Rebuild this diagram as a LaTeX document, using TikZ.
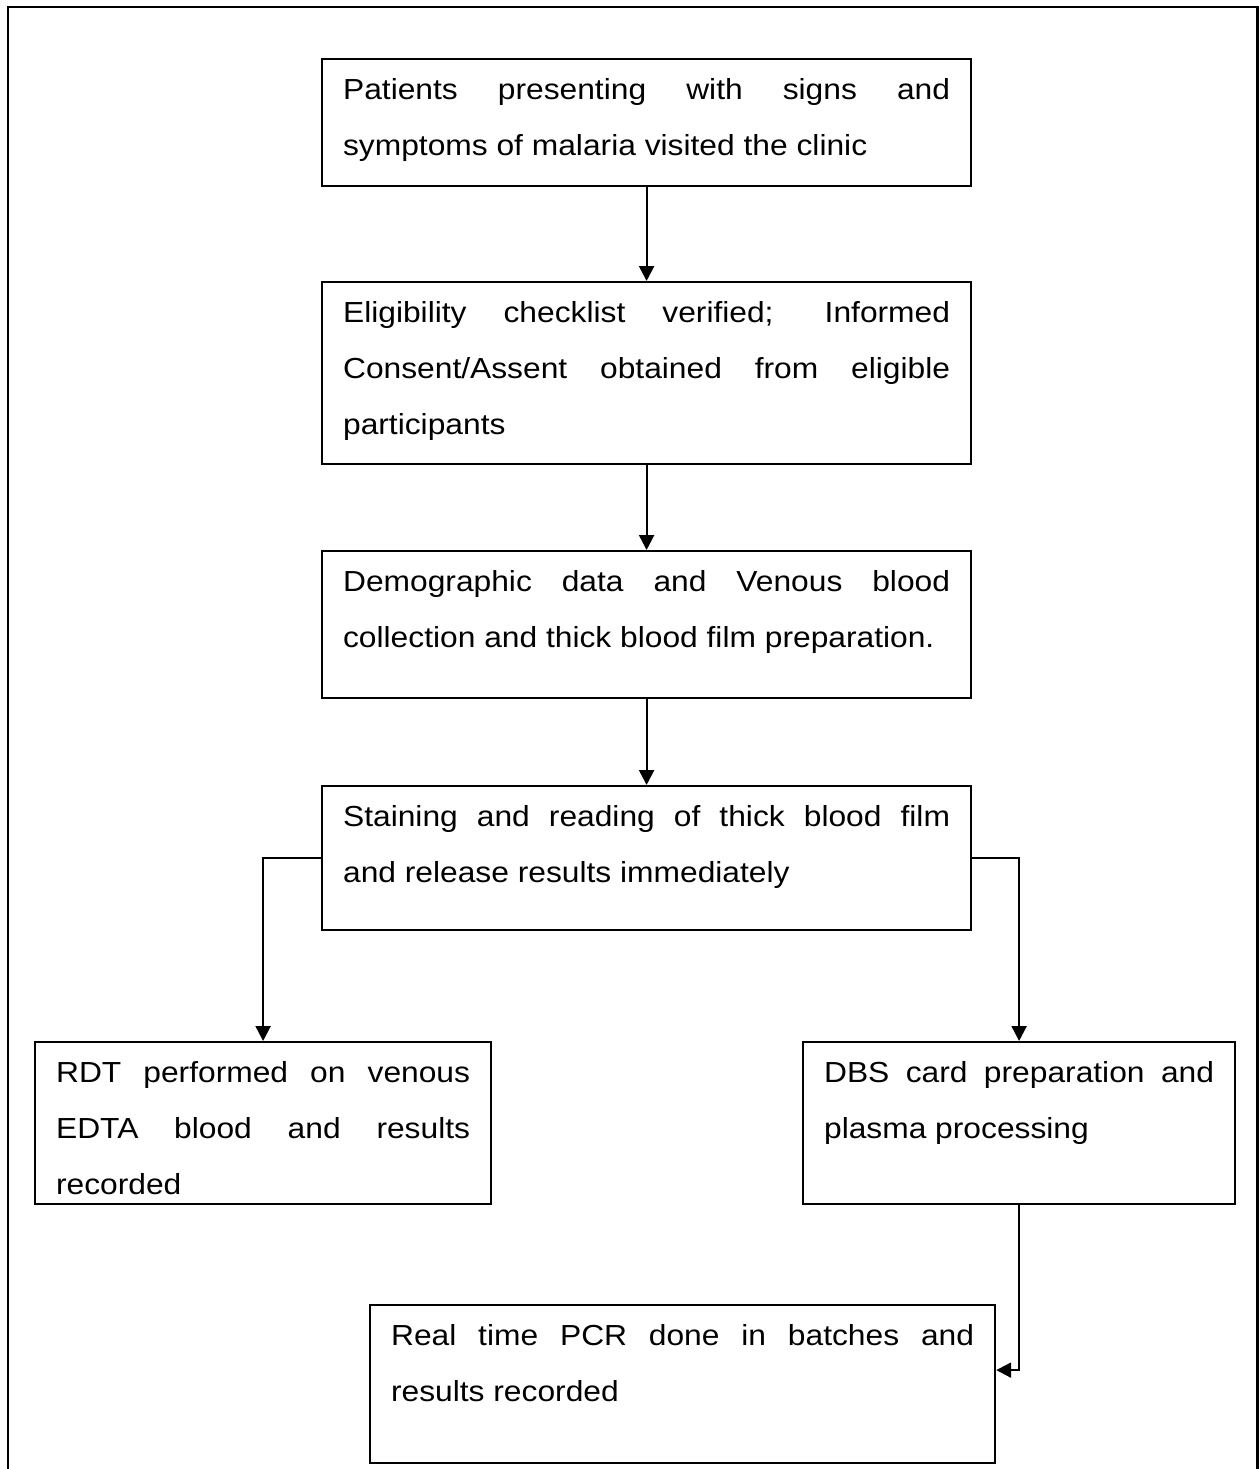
\documentclass[tikz,border=0pt]{standalone}
\usepackage{fontspec}
\usetikzlibrary{arrows.meta}
\newfontfamily\stagefont[FakeStretch=1.095]{Liberation Sans}

% Boxed paragraph: width, height, justified text with the first baseline 20pt below the top
\newcommand\stagetext[3]{\parbox[c][#2][t]{#1}{\tolerance=10000\hyphenpenalty=10000\rule{0pt}{20pt}#3}}

\begin{document}
\begin{tikzpicture}[x=0.5pt, y=-0.5pt,
  stage/.style={draw, line width=1.1pt, anchor=north west, inner xsep=10.5pt, inner ysep=0pt,
                font=\stagefont\fontsize{14.5pt}{28pt}\selectfont},
  arr/.style={draw, line width=1.1pt, -{Triangle[length=7.5pt, width=7.5pt]}}]
\useasboundingbox (0,0) rectangle (1259,1469);
\clip (0,0) rectangle (1259,1469);
\fill[white] (0,0) rectangle (1259,1469);

% page frame (runs past the lower edge)
\draw[line width=1.2pt] (8,7) rectangle (1257.5,1500);

\node[stage] (b1) at (321,58)
  {\stagetext{303.5pt}{63.5pt}{Patients presenting with signs and\linebreak symptoms of malaria visited the clinic}};
\node[stage] (b2) at (321,281)
  {\stagetext{303.5pt}{91pt}{Eligibility checklist verified; Informed\linebreak Consent/Assent obtained from eligible\linebreak participants}};
\node[stage] (b3) at (321,550)
  {\stagetext{303.5pt}{73.5pt}{Demographic data and Venous blood\linebreak collection and thick blood film preparation.}};
\node[stage] (b4) at (321,785)
  {\stagetext{303.5pt}{72pt}{Staining and reading of thick blood film\linebreak and release results immediately}};
\node[stage] (b5) at (34,1041)
  {\stagetext{207pt}{81pt}{RDT performed on venous\linebreak EDTA blood and results\linebreak recorded}};
\node[stage] (b6) at (802,1041)
  {\stagetext{195pt}{81pt}{DBS card preparation and\linebreak plasma processing}};
\node[stage] (b7) at (369,1304)
  {\stagetext{291.5pt}{79pt}{Real time PCR done in batches and\linebreak results recorded}};

\coordinate (b7in) at ([yshift=7pt]b7.east);

\draw[arr] (b1.south) -- (b2.north);
\draw[arr] (b2.south) -- (b3.north);
\draw[arr] (b3.south) -- (b4.north);
\draw[arr] (b4.west) -| (b5.north);
\draw[arr] (b4.east) -| (b6.north);
\draw[arr] (b6.south) |- (b7in);
\end{tikzpicture}
\end{document}
